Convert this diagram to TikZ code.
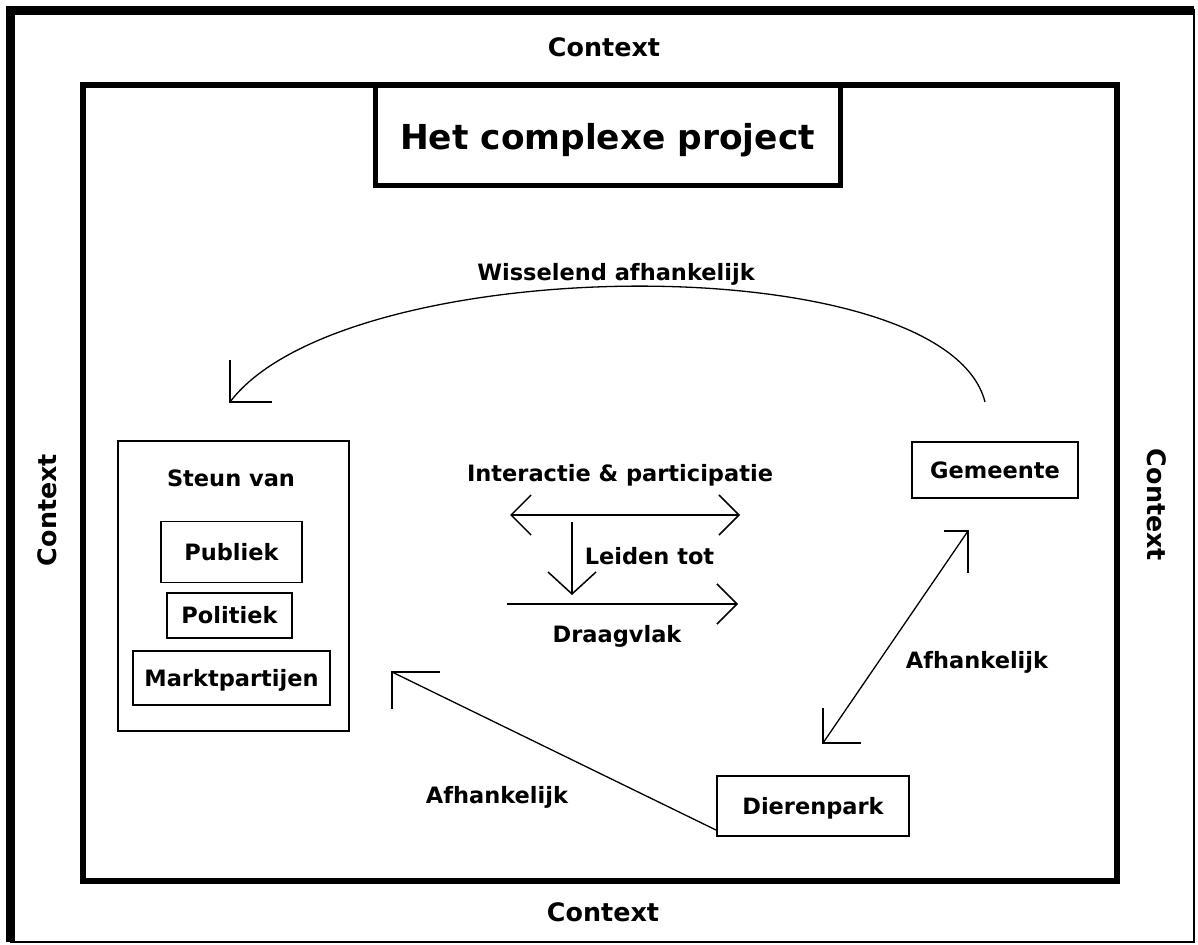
\documentclass[tikz,border=0pt]{standalone}
\usepackage{fontspec}
\setmainfont{DejaVu Sans}
\usetikzlibrary{arrows.meta,calc}
\tikzset{
  lbl/.style={font=\fontsize{22.5}{27}\selectfont\bfseries, text height=16.4pt, text depth=0pt, inner sep=0pt},
  ctx/.style={font=\fontsize{25.4}{30}\selectfont\bfseries, text height=18.5pt, text depth=0pt, inner sep=0pt},
  ttl/.style={font=\fontsize{34.4}{40}\selectfont\bfseries, text height=25pt, text depth=0pt, inner sep=0pt},
  box/.style={draw, line width=1.5pt, inner sep=0pt, lbl},
  shaft/.style={line width=1.3pt},
  head/.style={line width=2pt},
  ctip/.tip={Straight Barb[length=20pt,width=40pt]},
  dtip/.tip={Straight Barb[length=22pt,width=48pt]},
}
\begin{document}
\begin{tikzpicture}[x=1pt,y=-1pt]
\useasboundingbox (0,0) rectangle (1198,944);
% frames
\draw[line width=2pt] (10.5,10.5) rectangle (1194,942);
\draw[line width=9pt] (10.5,942) -- (10.5,10.5) -- (1194,10.5);
\draw[line width=6pt] (83,85) rectangle (1117,881);
% context labels
\node[ctx] (ctop) at (604,47) {Context};
\node[ctx] (cbot) at (603,912) {Context};
\node[ctx, rotate=90] (cleft) at (47,510) {Context};
\node[ctx, rotate=-90] (cright) at (1157,505) {Context};
% title
\node[draw, fill=white, line width=5pt, minimum width=465pt, minimum height=100pt, inner sep=0pt] (titlebox) at (607.5,135.5) {};
\node[ttl] (title) at (607.5,137) {Het complexe project};
% left group
\node[draw, line width=1.5pt, minimum width=231pt, minimum height=290pt, inner sep=0pt] (steun) at (233.5,586) {};
\node[lbl] (steunlbl) at (231,478.5) {Steun van};
\node[box, minimum width=141pt, minimum height=61pt] (publiek) at (231.5,552) {Publiek};
\node[box, minimum width=125pt, minimum height=45pt] (politiek) at (229.5,615.5) {Politiek};
\node[box, minimum width=197pt, minimum height=54pt] (markt) at (231.5,678) {Marktpartijen};
% right boxes
\node[box, minimum width=166pt, minimum height=56pt] (gemeente) at (995,470) {Gemeente};
\node[box, minimum width=192pt, minimum height=60pt] (dierenpark) at (813,806) {Dierenpark};
% arc
\coordinate (arcstart) at (985,402);
\coordinate (arcend) at (230,402);
\draw[shaft] (arcstart) .. controls (945,245) and (345,250) .. (arcend);
\draw[head] ($(arcend)+(0,-42)$) -- (arcend) -- ($(arcend)+(42,0)$);
\node[lbl] (wiss) at (616,272) {Wisselend afhankelijk};
% right double arrow
\coordinate (rlow) at (823,743);
\coordinate (rhigh) at (968,531);
\draw[shaft] (rlow) -- (rhigh);
\draw[head] ($(rlow)+(0,-35)$) -- (rlow) -- ($(rlow)+(38,0)$);
\draw[head] ($(rhigh)+(-24,0)$) -- (rhigh) -- ($(rhigh)+(0,42)$);
\node[lbl] (afh1) at (977,660) {Afhankelijk};
% left arrow
\coordinate (lstart) at (716,830);
\coordinate (ltip) at (392,672);
\draw[shaft] (lstart) -- (ltip);
\draw[head] ($(ltip)+(0,37)$) -- (ltip) -- ($(ltip)+(48,0)$);
\node[lbl] (afh2) at (497,795) {Afhankelijk};
% center
\node[lbl] (inter) at (620,473) {Interactie \& participatie};
\coordinate (ia) at (510,515);
\coordinate (ib) at (740,515);
\draw[shaft, line width=1.5pt, {ctip}-{ctip}] (ia) -- (ib);
\coordinate (la) at (572,522);
\coordinate (lb) at (572,595);
\draw[shaft, line width=1.5pt, -{dtip}] (la) -- (lb);
\node[lbl] (leiden) at (649.5,556) {Leiden tot};
\coordinate (da) at (507,604);
\coordinate (db) at (738,604);
\draw[shaft, line width=1.5pt, -{ctip}] (da) -- (db);
\node[lbl] (draag) at (617,634.5) {Draagvlak};
\end{tikzpicture}
\end{document}
